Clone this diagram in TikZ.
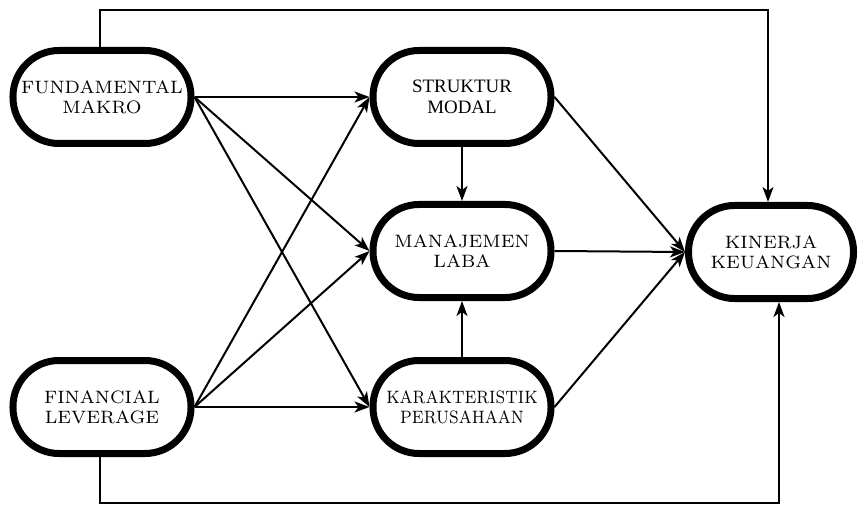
\documentclass[tikz,border=0pt]{standalone}
\usepackage{fontspec}
\usetikzlibrary{arrows.meta}
\newfontfamily\timesfont{Liberation Serif}
\newfontfamily\lmseven{lmroman7-regular.otf}
\newfontfamily\lmsevennarrow{lmroman7-regular.otf}[FakeStretch=0.86]
\tikzset{
  box/.style={draw, line width=7bp, rounded corners=46bp, minimum width=178bp,
    minimum height=93bp, align=center, inner sep=0pt,
    font=\lmseven\fontsize{18}{20.5}\selectfont},
  conn/.style={line width=2bp, -{Stealth[length=15bp,width=11bp,inset=4bp]}},
  plain/.style={line width=2bp}
}
\begin{document}
\begin{tikzpicture}[x=1bp,y=-1bp]
\useasboundingbox (0,0) rectangle (862,506);
\node[box] (FM) at (102,97) {FUNDAMENTAL\\MAKRO};
\node[box] (FL) at (102,407) {FINANCIAL\\LEVERAGE};
\node[box, font=\timesfont\fontsize{19}{21}\selectfont] (SM) at (462,97) {STRUKTUR\\MODAL};
\node[box] (ML) at (462,251) {MANAJEMEN\\LABA};
\node[box, font=\lmsevennarrow\fontsize{18}{20}\selectfont] (KP) at (462,407) {KARAKTERISTIK\\PERUSAHAAN};
\node[box, minimum width=165bp] (KK) at (771,252) {KINERJA\\KEUANGAN};
\coordinate (t1) at (100,10);
\coordinate (t2) at (768,10);
\coordinate (b1) at (100,503);
\coordinate (b2) at (779,503);
\draw[conn] (FM.east) -- (SM.west);
\draw[conn] (FM.east) -- (ML.west);
\draw[conn] (FM.east) -- (KP.west);
\draw[conn] (FL.east) -- (SM.west);
\draw[conn] (FL.east) -- (ML.west);
\draw[conn] (FL.east) -- (KP.west);
\draw[conn] (SM.south) -- (ML.north);
\draw[conn] (KP.north) -- (ML.south);
\draw[conn] (SM.east) -- (KK.west);
\draw[conn] (ML.east) -- (KK.west);
\draw[conn] (KP.east) -- (KK.west);
\draw[conn] (FM.north -| t1) -- (t1) -- (t2) -- (KK.north -| t2);
\draw[conn] (FL.south -| b1) -- (b1) -- (b2) -- (KK.south -| b2);
\end{tikzpicture}
\end{document}
